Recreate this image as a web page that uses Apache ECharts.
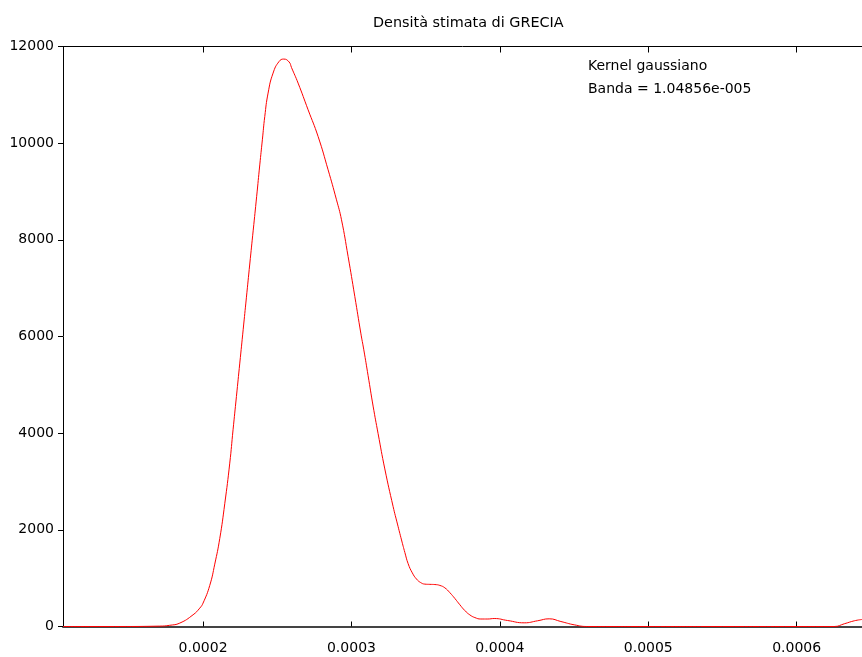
<!DOCTYPE html>
<html>
<head>
<meta charset="utf-8">
<title>Densità stimata di GRECIA</title>
<script src="https://cdn.jsdelivr.net/npm/echarts@6/dist/echarts.min.js"></script>
<style>
  html, body { margin: 0; padding: 0; background: #fff; }
  #chart { width: 862px; height: 657px; }
</style>
</head>
<body>
<div id="chart"></div>
<script>
// Kernel density estimate (Gaussian kernel) – sample points of the curve
const densityX = [
  1.0563e-4, 1.4385e-4, 1.7081e-4, 1.7755e-4, 1.8429e-4, 1.9326e-4, 1.9778e-4,
  2.0000e-4, 2.0452e-4, 2.0789e-4, 2.1126e-4, 2.1463e-4, 2.1800e-4,
  2.2022e-4, 2.2249e-4, 2.2476e-4, 2.2706e-4, 2.2919e-4, 2.3148e-4, 2.3381e-4,
  2.3613e-4, 2.3822e-4, 2.3997e-4, 2.4159e-4, 2.4382e-4, 2.4719e-4, 2.5123e-4,
  2.5440e-4, 2.5797e-4, 2.5959e-4, 2.6404e-4, 2.7078e-4, 2.7752e-4, 2.8426e-4,
  2.8992e-4, 2.9329e-4, 2.9774e-4, 3.0226e-4, 3.0630e-4, 3.0832e-4, 3.1122e-4,
  3.1459e-4, 3.1796e-4, 3.2248e-4, 3.2808e-4, 3.3100e-4, 3.3374e-4, 3.3600e-4,
  3.3819e-4, 3.4100e-4, 3.4386e-4, 3.4660e-4, 3.4945e-4, 3.5282e-4, 3.5619e-4,
  3.5956e-4, 3.6293e-4, 3.6630e-4, 3.6967e-4, 3.7304e-4, 3.7641e-4, 3.7978e-4,
  3.8315e-4, 3.8719e-4, 3.9191e-4, 3.9616e-4, 4.0519e-4, 4.1638e-4, 4.2541e-4,
  4.3323e-4, 4.4112e-4, 4.5009e-4, 4.5912e-4, 5.0000e-4, 5.5000e-4, 6.0000e-4,
  6.2534e-4, 6.3208e-4, 6.3883e-4, 6.4402e-4
];
const densityY = [
  0, 0, 8, 25, 70, 242, 380,
  484, 850, 1290, 1820, 2540, 3380,
  4070, 4759, 5450, 6150, 6800, 7500, 8200,
  8900, 9550, 10070, 10552, 11036, 11450, 11690,
  11740, 11680, 11565, 11243, 10691, 10138, 9449,
  8828, 8415, 7655, 6828, 6070, 5725, 5190,
  4560, 3990, 3260, 2480, 2120, 1790, 1530,
  1300, 1110, 981, 910, 877, 872, 868,
  850, 800, 700, 580, 450, 330, 240,
  185, 155, 155, 165, 124, 76, 118,
  159, 103, 35, 0, 0, 0, 0,
  0, 56, 118, 145
];

// Axis ranges and tick labels
const xRange = [1.0563e-4, 6.4402e-4];
const xTicks = [0.0002, 0.0003, 0.0004, 0.0005, 0.0006];
const yTicks = [0, 2000, 4000, 6000, 8000, 10000, 12000];

const titleText = 'Densità stimata di GRECIA';
const noteLines = ['Kernel gaussiano', 'Banda = 1.04856e-005'];

const FONT = 'DejaVu Sans';
const FONT_SIZE = 14;
const chart = echarts.init(document.getElementById('chart'), null, { renderer: 'canvas' });

const points = densityX.map((x, i) => [x, densityY[i]]);

chart.setOption({
  backgroundColor: '#ffffff',
  animation: false,
  title: {
    text: titleText,
    left: 368,
    top: 11,
    textStyle: { fontFamily: FONT, fontSize: 14.4, fontWeight: 'normal', color: '#000' }
  },
  graphic: noteLines.map((t, i) => ({
    type: 'text',
    left: 588,
    top: 59 + i * 23,
    style: { text: t, fontFamily: FONT, fontSize: FONT_SIZE, fill: '#000' }
  })),
  grid: { left: 63, right: 0, top: 46.5, bottom: 30.5, containLabel: false },
  xAxis: [
    {
      type: 'value',
      min: xRange[0],
      max: xRange[1],
      position: 'bottom',
      splitLine: { show: false },
      axisLine: { show: true, onZero: false, lineStyle: { color: '#444', width: 2 } },
      axisTick: { show: true, inside: true, length: 5, customValues: xTicks, lineStyle: { color: '#000', width: 1 } },
      axisLabel: {
        show: true, margin: 15, customValues: xTicks,
        fontFamily: FONT, fontSize: FONT_SIZE, color: '#000',
        formatter: v => v.toFixed(4)
      }
    },
    {
      type: 'value',
      min: xRange[0],
      max: xRange[1],
      position: 'top',
      splitLine: { show: false },
      axisLine: { show: true, onZero: false, lineStyle: { color: '#000', width: 1 } },
      axisTick: { show: true, inside: true, length: 6, customValues: xTicks, lineStyle: { color: '#000', width: 1 } },
      axisLabel: { show: false }
    }
  ],
  yAxis: {
    type: 'value',
    min: 0,
    max: 12000,
    interval: 2000,
    splitLine: { show: false },
    axisLine: { show: true, onZero: false, lineStyle: { color: '#000', width: 1 } },
    axisTick: { show: true, inside: false, length: 5, lineStyle: { color: '#000', width: 1 } },
    axisLabel: {
      margin: 9, fontFamily: FONT, fontSize: FONT_SIZE, color: '#000',
      customValues: yTicks,
      formatter: v => String(v)
    }
  },
  series: [{
    type: 'line',
    xAxisIndex: 0,
    data: points,
    smooth: 0.5,
    showSymbol: false,
    symbol: 'none',
    clip: true,
    lineStyle: { color: '#ff0000', width: 1 },
    z: 5
  }]
});
</script>
</body>
</html>
